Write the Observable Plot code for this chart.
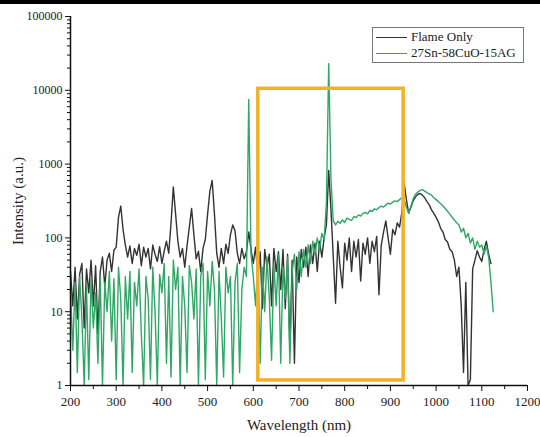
<!DOCTYPE html>
<html><head><meta charset="utf-8">
<script src="https://cdn.jsdelivr.net/npm/d3@7"></script>
<script src="https://cdn.jsdelivr.net/npm/@observablehq/plot@0.6"></script>
<style>
body{margin:0;background:#fff;}
#wrap{position:relative;width:540px;height:437px;overflow:hidden;}
#bar{position:absolute;left:0;top:0;width:540px;height:4px;background:#000;}
#legend{position:absolute;left:372px;top:27px;width:150px;height:34px;border:1px solid #777;background:#fff;font-family:"Liberation Serif",serif;font-size:13px;color:#222;}
.item{position:absolute;left:3px;height:16px;display:flex;align-items:center;white-space:nowrap;}
.sw{width:31px;height:0;border-top:1.5px solid;margin-right:4px;}
</style></head><body>
<div id="wrap"><div id="bar"></div><div id="chart"></div><div id="legend"></div></div>
<script>
const wavelength = [
200,205,210,215,220,225,230,235,240,245,250,255,260,265,270,275,280,285,290,295,
300,305,310,315,320,325,330,335,340,345,350,355,360,365,370,375,380,385,390,395,
400,405,410,415,420,425,430,435,440,445,450,455,460,465,470,475,480,485,490,495,
500,505,510,515,520,525,530,535,540,545,550,555,560,565,570,575,580,585,590,595,
600,605,610,615,620,625,630,635,640,645,650,655,660,665,670,675,680,685,690,695,
700,705,710,715,720,725,730,735,740,745,750,755,760,765,770,775,780,785,790,795,
800,805,810,815,820,825,830,835,840,845,850,855,860,865,870,875,880,885,890,895,
900,905,910,915,920,925,930,935,940,945,950,955,960,965,970,975,980,985,990,995,
1000,1005,1010,1015,1020,1025,1030,1035,1040,1045,1050,1055,1060,1065,1070,1075,1080,1085,1090,1095,
1100,1105,1110,1115,1120,1125];

const flameOnly = [
35,12,40,8,32,45,6,38,18,50, 12,42,5,35,55,22,50,62,35,68,
75,190,270,130,80,55,78,45,72,58, 82,42,75,55,72,38,80,60,48,76,
45,66,90,62,160,490,210,90,55,72, 40,78,140,250,110,52,66,35,72,95,
210,430,600,210,62,40,72,45,82,62, 110,150,125,62,45,72,52,65,120,70,
45,75,30,65,11,70,40,60,12,72, 35,65,20,70,11,60,3,50,2,55,
25,70,40,75,30,80,45,85,35,90, 55,100,150,820,240,55,13,90,40,21,
85,50,100,35,90,55,95,26,85,60, 100,45,90,65,105,17,80,120,170,100,
60,130,110,160,140,220,560,330,215,260, 320,360,390,400,380,350,310,280,240,215,
190,165,135,120,95,88,70,65,50,30, 40,12,1.5,25,1,1.2,38,50,67,55,
48,70,90,60,45,null];

const composite = [
20,3,25,1.5,30,8,1,22,1.2,28, 6,18,2,30,1,25,10,35,4,28,
1.2,40,15,1,30,8,35,1.5,25,12, 38,5,1,30,15,1.2,40,10,1,32,
18,45,2,30,1.3,50,20,40,1,30, 12,1.5,42,25,8,38,1,30,45,1.2,
35,12,48,20,1,35,8,1.3,40,18, 30,1,25,45,1.5,20,40,30,7500,60,
30,12,50,2,40,10,55,15,2.2,45, 12,60,2,40,15,55,2,35,60,20,
65,30,70,40,80,45,90,60,100,70, 115,95,300,23000,600,170,150,168,158,175,
162,185,178,172,195,188,205,198,215,222, 212,235,228,248,240,258,270,262,280,295,
288,305,318,310,330,350,330,260,215,270, 340,390,420,440,450,430,410,395,380,350,
330,310,290,270,250,230,210,190,175,160, 150,120,135,100,115,85,100,70,90,75,
80,60,78,55,25,10];

const seriesNames = ["Flame Only", "27Sn-58CuO-15AG"];
const seriesColors = ["#333333", "#2fa866"];

const boxWavelength = [611, 929];
const boxIntensity = [1.17, 10500];

const xTicks = [200,300,400,500,600,700,800,900,1000,1100,1200];
const xMinorTicks = [250,350,450,550,650,750,850,950,1050,1150];
const yTicks = [1,10,100,1000,10000,100000];
const yMinorTicks = [1,10,100,1000,10000].flatMap(d => [2,3,4,5,6,7,8,9].map(m => d*m));

const rows = wavelength.map((w,i) => ({w, flame: flameOnly[i], comp: composite[i]}));
const box = [{x1: boxWavelength[0], x2: boxWavelength[1], y1: boxIntensity[0], y2: boxIntensity[1]}];

const chart = Plot.plot({
  width: 540, height: 437,
  marginLeft: 70, marginRight: 13, marginTop: 16, marginBottom: 52,
  style: {fontFamily: "'Liberation Serif', serif", fontSize: "13px", color: "#222", background: "transparent"},
  x: {domain: [200, 1200]},
  y: {type: "log", domain: [1, 100000]},
  marks: [
    Plot.line(rows, {x: "w", y: "flame", stroke: seriesColors[0], strokeWidth: 1.4}),
    Plot.line(rows, {x: "w", y: "comp", stroke: seriesColors[1], strokeWidth: 1.4}),
    Plot.rect(box, {x1: "x1", x2: "x2", y1: "y1", y2: "y2", fill: "none", stroke: "#f2b128", strokeWidth: 3.5}),
    Plot.ruleX([200], {stroke: "#111", strokeWidth: 1.5}),
    Plot.ruleY([1], {stroke: "#111", strokeWidth: 1.5}),
    Plot.axisX({ticks: xTicks, tickSize: 6, tickPadding: 5, tickFormat: d => String(d), fontSize: 13,
      label: "Wavelength (nm)", labelAnchor: "center", labelArrow: "none", labelOffset: 44, stroke: "#111"}),
    Plot.axisX({ticks: xMinorTicks, tickSize: 4, tickFormat: () => "", label: null, stroke: "#111"}),
    Plot.axisY({ticks: yTicks, tickSize: 5, tickPadding: 3, tickFormat: d => String(d), fontSize: 12,
      label: "Intensity (a.u.)", labelAnchor: "center", labelArrow: "none", labelOffset: 58, stroke: "#111"}),
    Plot.axisY({ticks: yMinorTicks, tickSize: 3, tickFormat: () => "", label: null, stroke: "#111"})
  ]
});
chart.querySelectorAll("[aria-label='x-axis label'], [aria-label='y-axis label']").forEach(g => g.style.fontSize = "15px");
document.getElementById("chart").appendChild(chart);

const legend = document.getElementById("legend");
seriesNames.forEach((name, i) => {
  const it = document.createElement("div");
  it.className = "item";
  it.style.top = (1 + i*16) + "px";
  it.innerHTML = `<span class="sw" style="border-color:${seriesColors[i]}"></span><span>${name}</span>`;
  legend.appendChild(it);
});
</script>
</body></html>
